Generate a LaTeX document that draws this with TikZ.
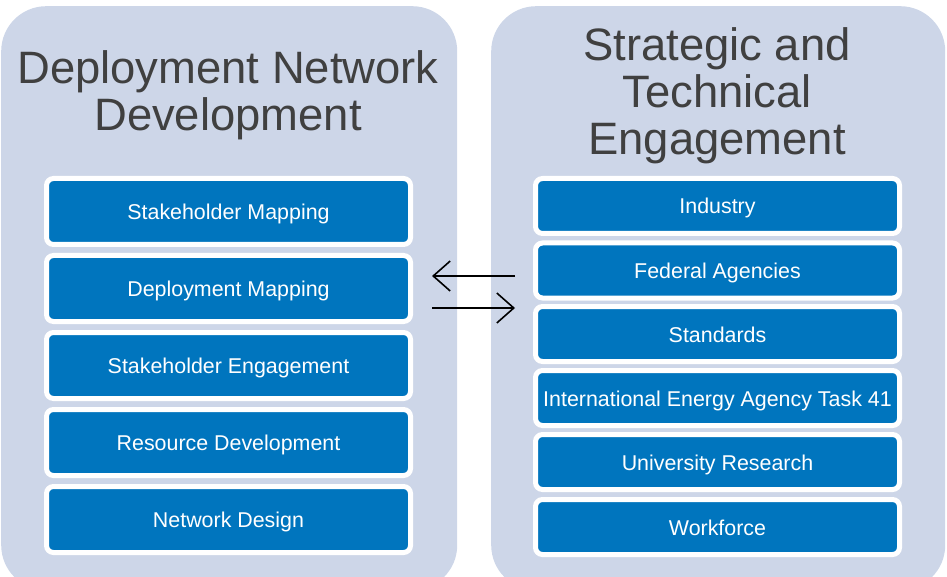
\documentclass[tikz,border=0pt]{standalone}
\usepackage{fontspec}
\setmainfont{Liberation Sans}
\usetikzlibrary{arrows.meta}
\definecolor{panelbg}{RGB}{205,214,232}
\definecolor{boxblue}{RGB}{0,117,190}
\definecolor{titlegray}{RGB}{64,64,64}
\tikzset{
  panel/.style={fill=panelbg, rounded corners=45pt, inner sep=0pt, anchor=north west},
  title/.style={text=titlegray, align=center, inner sep=0pt, anchor=north,
    font=\fontsize{45.4}{47}\selectfont},
  item/.style={fill=boxblue, draw=white, line width=5pt, rounded corners=7pt,
    minimum width=364pt, inner sep=0pt, text=white, text height=16pt, text depth=0pt,
    font=\fontsize{21.4}{24}\selectfont},
  litem/.style={item, minimum height=66pt},
  ritem/.style={item, minimum height=55pt},
  flow/.style={line width=1.6pt, -{Straight Barb[length=17pt,width=30pt,line width=1.6pt]}}
}
\begin{document}
\begin{tikzpicture}[x=1pt,y=-1pt]
\useasboundingbox (0,0) rectangle (947,577);
\begin{scope}
\clip (0,0) rectangle (947,577);
\node[panel, minimum width=456pt, minimum height=584pt] (lp) at (1,6) {};
\node[panel, minimum width=454pt, minimum height=584pt] (rp) at (491,6) {};
\end{scope}
\node[title] (lt) at (228,50) {Deployment Network\\Development};
\node[title] (rt) at (717,27) {Strategic and\\Technical\\Engagement};
\node[litem] (l1) at (228.5,211.5) {Stakeholder Mapping};
\node[litem] (l2) at (228.5,288.5) {Deployment Mapping};
\node[litem] (l3) at (228.5,365.5) {Stakeholder Engagement};
\node[litem] (l4) at (228.5,442.5) {Resource Development};
\node[litem] (l5) at (228.5,519.5) {Network Design};
\node[ritem] (r1) at (717.5,206) {Industry};
\node[ritem] (r2) at (717.5,270.5) {Federal Agencies};
\node[ritem] (r3) at (717.5,334) {Standards};
\node[ritem] (r4) at (717.5,398) {International Energy Agency Task 41};
\node[ritem] (r5) at (717.5,462) {University Research};
\node[ritem] (r6) at (717.5,527) {Workforce};
\coordinate (aR1) at (515,276);
\coordinate (aL1) at (432,276);
\coordinate (aL2) at (432,308);
\coordinate (aR2) at (515,308);
\draw[flow] (aR1) -- (aL1);
\draw[flow] (aL2) -- (aR2);
\end{tikzpicture}
\end{document}
